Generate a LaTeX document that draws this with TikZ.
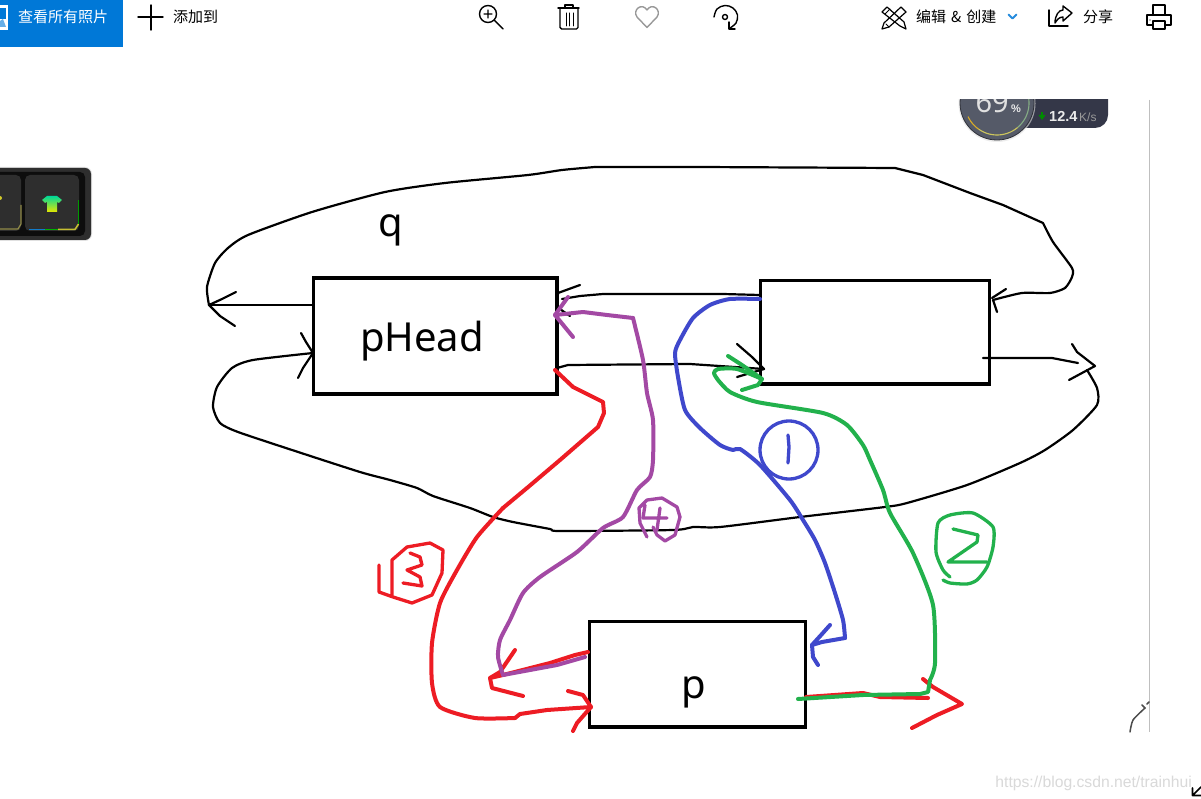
\documentclass[tikz,border=0pt]{standalone}
\usepackage{fontspec}
\setmainfont{Noto Sans}
\newfontfamily\cjk{Noto Sans CJK SC}
\newfontfamily\lib{Liberation Sans}
\definecolor{rd}{HTML}{ED1C24}
\definecolor{gn}{HTML}{22B14C}
\definecolor{bl}{HTML}{3F48CC}
\definecolor{pu}{HTML}{A349A4}
\definecolor{winblue}{HTML}{0078D7}
\definecolor{barc}{HTML}{343748}
\definecolor{gaugec}{HTML}{555A68}
\tikzset{
  base/.style={line join=round,line cap=round},
  blk/.style={base,draw=black,line width=2.2pt},
  rdl/.style={base,draw=rd,line width=4pt},
  gnl/.style={base,draw=gn,line width=4pt},
  bll/.style={base,draw=bl,line width=4pt},
  pul/.style={base,draw=pu,line width=4pt},
  thin3/.style={line width=3.3pt},
  sk/.style={smooth,tension=.4},
  listbox/.style={draw=black,line width=3.6pt,fill=white,inner sep=0pt,outer sep=0pt},
  big/.style={font=\fontsize{40}{40}\selectfont,inner sep=0pt,anchor=base},
  uitxt/.style={font=\cjk\fontsize{15}{15}\selectfont,inner sep=0pt,anchor=west},
  icon/.style={base,draw=black,line width=1.4pt},
}
\begin{document}
\begin{tikzpicture}[x=1pt,y=-1pt]
\useasboundingbox (0,0) rectangle (1201,799);
\fill[white] (0,0) rectangle (1201,799);

% ---- toolbar
\fill[winblue] (0,0) rectangle (123,47);
\fill[white] (0,5) rectangle (8,30);
\fill[winblue] (0,8) rectangle (6,19);
\fill[winblue!60] (0,21) -- (3,19) -- (6,27) -- (0,27) -- cycle;
\node[uitxt,text=white] (t1) at (18,17) {查看所有照片};
\draw[icon] (138,17) -- (163,17) (151,5) -- (151,30);
\node[uitxt] (t2) at (173,17) {添加到};
% zoom
\draw[icon] (488,14) circle (8.5);
\draw[icon] (484,14) -- (492,14) (488,10) -- (488,18) (494,20) -- (503,29);
% trash
\draw[icon] (558,8) -- (579,8) (565,8) -- (565,5) -- (573,5) -- (573,8);
\draw[icon,rounded corners=1.5pt] (560,8) -- (560,29) -- (578,29) -- (578,8);
\draw[base,draw=black,line width=1pt] (566,13) -- (566,26) (569,13) -- (569,26) (573,13) -- (573,26);
% heart
\draw[base,draw=black!40,line width=1.4pt] (647,27.5) -- (637,17) .. controls (632,10) and (642,2) .. (647,10) .. controls (652,2) and (662,10) .. (657,17) -- cycle;
% rotate
\draw[icon] plot[smooth,tension=.6] coordinates {(714,17) (717,9) (725,5.5) (733,8) (737.5,15) (736,23) (730,28)};
\draw[icon] (725,17) circle (2.5);
\draw[icon] (729,22) -- (729,29) -- (735,29);
% edit
\draw[icon,line width=1.2pt] (887,7) -- (882,12) -- (900,26) -- (906,29) -- (904,22) -- cycle;
\draw[icon,line width=1.2pt] (901,7) -- (906,12) -- (889,27) -- (882,29) -- (884,23) -- cycle;
\draw[icon,line width=1pt] (885,14) -- (890,9) (886,24) -- (889,27);
\node[uitxt] (t3) at (916,17) {编辑\hspace{5pt}\&\hspace{5pt}创建};
\draw[base,draw=winblue!85,line width=1.8pt] (1008.5,14.5) -- (1012.5,18.5) -- (1016.5,14.5);
% share
\draw[icon] (1049,10) -- (1049,26) -- (1068,26);
\draw[icon] (1063,6) -- (1072,13) -- (1063,21) -- (1063,17) .. controls (1059,17) and (1057,20) .. (1055,23) .. controls (1055,15) and (1059,10) .. (1063,10) -- cycle;
\node[uitxt] (t4) at (1083,17) {分享};
% printer
\draw[icon] (1153,15) -- (1153,5) -- (1165,5) -- (1165,15);
\draw[icon] (1153,25) -- (1147,25) -- (1147,15) -- (1171,15) -- (1171,25) -- (1165,25);
\draw[icon] (1153,21) rectangle (1165,29);
\fill (1150,20) circle (.7);

% ---- network gauge
\begin{scope}
\clip (900,100) rectangle (1149,160);
\fill[barc,rounded corners=13pt] (1010,80) rectangle (1108,128);
\fill[black!12,opacity=.6] (997,103.5) circle (38.5);
\fill[gaugec] (997,103) circle (37);
\draw[draw=black!45!gaugec,line width=.8pt] (997,103) circle (37);
\node[inner sep=0pt,anchor=base east,text=black!12,font=\fontsize{29}{29}\selectfont] (g1) at (1009,113) {69};
\draw[line width=1.1pt,draw=green!20!gray!80!white] plot[domain=-10:50,samples=15] ({997+32*cos(\x)},{103+32*sin(\x)});
\draw[line width=1.1pt,draw=yellow!55!gray] plot[domain=50:125,samples=15] ({997+32*cos(\x)},{103+32*sin(\x)});
\draw[line width=1.1pt,draw=orange!50!yellow!70!gray] plot[domain=125:155,samples=10] ({997+32*cos(\x)},{103+32*sin(\x)});
\end{scope}
\node[inner sep=0pt,anchor=base west,text=black!8,font=\lib\bfseries\fontsize{11}{11}\selectfont] (g2) at (1011,113) {\%};
\fill[green!55!black] (1038.5,115) -- (1045.5,115) -- (1042,120) -- cycle;
\draw[green!55!black,line width=1.2pt] (1042,112) -- (1042,116);
\node[inner sep=0pt,anchor=base west,text=black!8,font=\lib\bfseries\fontsize{14.5}{14.5}\selectfont] (g3) at (1049,122) {12.4};
\node[inner sep=0pt,anchor=base west,text=black!40,font=\lib\fontsize{12}{12}\selectfont] (g4) at (1079,122) {K/s};

% ---- keyboard widget
\begin{scope}
\clip (0,160) rectangle (100,245);
\fill[black!12,rounded corners=7pt] (-10,167) rectangle (92,241);
\fill[black!82,rounded corners=6pt] (-10,168) rectangle (91,240);
\fill[black!95,rounded corners=5pt] (-10,172) rectangle (85,236);
\fill[black!82,rounded corners=5pt] (25,175) rectangle (79,231);
\fill[black!82,rounded corners=5pt] (-30,175) rectangle (21,231);
\draw[line width=1.5pt,draw=cyan!60!blue] (29,229.5) -- (45,229.5);
\draw[line width=1.5pt,draw=green!70!black] (45,229.5) -- (58,229.5);
\draw[line width=1.5pt,draw=yellow!75!black] (58,229.5) -- (75,229.5) -- (78.5,224);
\draw[line width=1.2pt,draw=green!60!black] (78.5,224) -- (78.5,200);
\draw[line width=1.2pt,draw=yellow!50!black] (0,229) -- (18,229) -- (21,224) -- (21,205);
\shade[top color=cyan!70!green!85!black,bottom color=yellow!90!black] (47,196) -- (57,196) -- (62,200) -- (59,203) -- (57,202) -- (57,212) -- (47,212) -- (47,202) -- (45,203) -- (42,200) -- cycle;
\fill[yellow!80!black] (0,198) circle (2);
\end{scope}

% ---- page edge and bottom-right remnants
\draw[draw=black!25,line width=1pt] (1149.5,100) -- (1149.5,732);
\draw[base,draw=black!70,line width=1.5pt] plot[sk] coordinates {(1130,732) (1133,720) (1145,708)};
\draw[base,draw=black!70,line width=1.5pt] (1142,705) -- (1145,708) (1147,704) -- (1149,702);
\draw[base,draw=black,line width=1.7pt] (1201,787) -- (1192.5,795.5) (1192.5,788) -- (1192.5,795.5) -- (1201,795.5);
\node[inner sep=0pt,anchor=base east,text=black!15,font=\lib\fontsize{15.7}{15.7}\selectfont] (wm) at (1192,787) {https://blog.csdn.net/trainhui};

% ---- list nodes
\node[listbox,minimum width=243.5pt,minimum height=116pt] (hd) at (435.25,336) {};
\node[listbox,minimum width=229pt,minimum height=103.5pt] (nx) at (875,332.25) {};
\node[listbox,minimum width=216pt,minimum height=105.5pt] (pn) at (697.5,674.25) {};
\node[big] (hdt) at (422,351) {pHead};
\node[big] (qt) at (390.5,237) {q};
\node[big] (pt) at (694,698) {p};

% ---- connector ends
\coordinate (a1) at (hd.west |- 0,305);
\coordinate (a2) at (209,305);
\coordinate (a3) at (992,298);
\coordinate (b1) at (983,358);
\coordinate (b2) at (1095,366);
\coordinate (b3) at (313,353);
\coordinate (c1) at (760,295);
\coordinate (c2) at (558,293);
\coordinate (d1) at (557,368);
\coordinate (d2) at (764,369);

% ---- black pointers
\draw[blk] (a1) -- (258,305) -- (a2);
\draw[blk] (236,292) -- (222,299) -- (a2) -- (220,316) -- (235,326);
\draw[blk] plot[sk] coordinates {(a2) (207,287) (215,263) (228,248) (248,235) (312,212) (385,192) (445,183) (528,175) (562,170) (595,167)};
\draw[blk] (595,167) -- (700,167) -- (895,168) -- (923,175) -- (970,193) -- (1003,205) -- (1043,223);
\draw[blk] plot[sk] coordinates {(1043,223) (1053,242) (1072,268) (1072,277) (1065,288) (1050,293) (1022,293) (993,300)};
\draw[blk] (1006,289) -- (a3) (993,300) -- (997,312);

\draw[blk] (b1) -- (1052,358) -- (1078,363);
\draw[blk] (1072,344) -- (1077,352) -- (b2) -- (1069,380);
\draw[blk] plot[sk] coordinates {(1087,370) (1097,388) (1097,405) (1073,430) (1045,450) (1020,463) (967,485) (907,503) (885,507) (800,517) (720,527) (693,527) (673,530) (560,531) (550,529) (513,522) (493,517) (470,508) (433,496) (417,488) (390,480) (360,472) (292,450) (238,432) (220,423) (213,407) (217,387) (232,368) (253,360) (b3)};
\draw[blk] (301,333) -- (306,342) -- (b3) -- (303,368) -- (298,378);

\draw[blk] (c1) -- (723,294) -- (603,294) -- (580,296) -- (562,299);
\draw[blk] (580,285) -- (c2) -- (557,307) -- (570,316);

\draw[blk] (d1) -- (568,365) -- (690,364) -- (d2);
\draw[blk] (737,344) -- (752,357) -- (d2) -- (737,377);

% ---- red
\coordinate (r1) at (555,370);
\coordinate (r2) at (591,707);
\coordinate (r3) at (588,652);
\coordinate (r4) at (490,678);
\coordinate (r5) at (806,697);
\coordinate (r6) at (962,704);
\draw[rdl] (r1) -- (573,387) -- (603,402) -- (604,413) -- (598,427) -- (560,460) -- (527,488) -- (503,508);
\draw[rdl] plot[sk] coordinates {(503,508) (477,537) (457,570) (440,603) (432,643) (432,683) (440,707) (475,718) (515,718)};
\draw[rdl] (515,718) -- (520,714) -- (547,710) -- (r2);
\draw[rdl] (568,691) -- (583,695) -- (r2) -- (577,723) -- (573,731);
\draw[rdl] (r3) -- (575,655) -- (550,663) -- (503,675) -- (r4);
\draw[rdl] (515,650) -- (500,672) -- (r4) -- (492,688) -- (523,696);
\draw[rdl] (r5) -- (863,693) -- (880,697) -- (928,698);
\draw[rdl] (923,679) -- (933,687) -- (r6) -- (937,715) -- (912,728);
% red 3
\draw[rdl,thin3] (379,565) -- (379,592) -- (393,597) -- (412,603) -- (432,595) -- (442,573) -- (443,550) -- (430,543) -- (407,547) -- (392,560) -- (392,595);
\draw[rdl,thin3] (410,553) -- (420,557) -- (422,565) -- (407,570) -- (420,577) -- (422,586) -- (403,583);

% ---- purple
\coordinate (u1) at (585,657);
\coordinate (u2) at (555,315);
\draw[pul] (u1) -- (557,665) -- (503,675);
\draw[pul] plot[sk] coordinates {(503,675) (498,657) (500,640) (510,620) (523,593) (540,577) (577,552) (603,528) (623,517) (637,490) (650,477) (653,460) (653,420) (647,393) (643,360) (633,318)};
\draw[pul] (633,318) -- (607,315) -- (583,312) -- (u2);
\draw[pul] (568,297) -- (u2) -- (573,337);
% purple 4
\draw[pul,thin3] (647,537) -- (640,523) -- (639,508) -- (647,500) -- (662,498) -- (677,507) -- (680,517) -- (675,535) -- (665,541) -- (657,535) -- (653,527);
\draw[pul,thin3] (645,505) -- (643,518) -- (667,518) (660,508) -- (657,530);

% ---- blue
\coordinate (l1) at (760,299);
\coordinate (l2) at (812,645);
\draw[bll] plot[sk] coordinates {(l1) (730,299) (710,305) (693,318) (680,340) (675,353) (678,377) (685,410) (700,428) (720,445) (733,450) (740,449) (760,465) (790,500) (803,520) (815,540) (825,563) (835,593) (843,620) (845,638)};
\draw[bll] (845,638) -- (822,642) -- (l2);
\draw[bll] (830,625) -- (822,634) -- (l2) -- (813,657) -- (818,665);
% blue 1
\draw[bll,thin3] (789,450) circle (29);
\draw[bll,thin3] (788,435) -- (789,447) -- (788,463);

% ---- green
\coordinate (g5) at (798,699);
\coordinate (g6) at (762,379);
\draw[gnl] (g5) -- (863,695) -- (920,694) -- (928,692) -- (930,680);
\draw[gnl] plot[sk] coordinates {(930,680) (935,663) (933,605) (913,553) (890,513) (883,490) (870,460) (863,445) (847,425) (823,413) (757,402) (730,392) (718,380) (714,373) (718,369) (737,369) (g6)};
\draw[gnl] (728,356) -- (742,365) -- (g6) -- (758,385) -- (742,390);
% green 2
\draw[gnl,thin3] plot[sk] coordinates {(943,580) (950,583) (967,584) (977,580) (987,567) (993,547) (993,527) (973,513) (950,515) (938,523) (936,552) (943,570) (950,577)};
\draw[gnl,thin3] (953,529) -- (978,535) -- (977,542) -- (948,562) -- (987,562);
\end{tikzpicture}
\end{document}
